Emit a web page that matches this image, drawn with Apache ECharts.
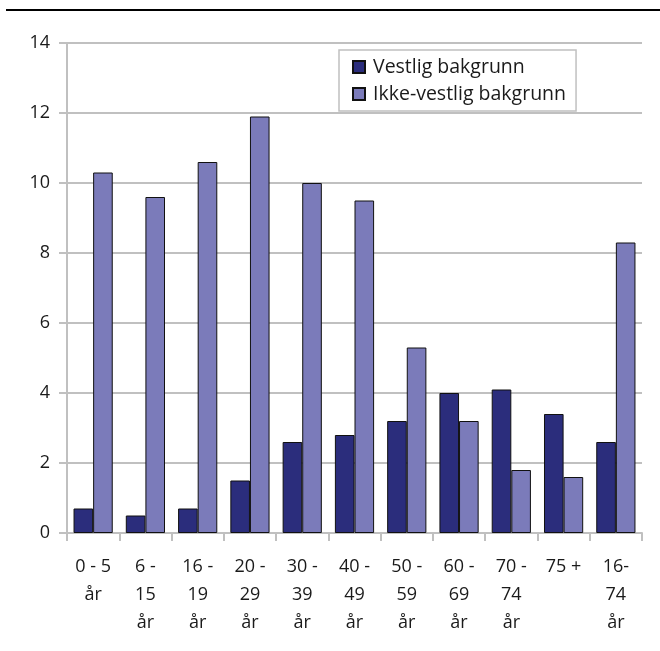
<!DOCTYPE html>
<html><head><meta charset="utf-8">
<script src="https://cdn.jsdelivr.net/npm/echarts@6/dist/echarts.min.js"></script>
<style>html,body{margin:0;padding:0;background:#fff}#c{width:660px;height:651px}</style>
</head><body><div id="c"></div>
<script>
const categories = ["0 - 5\når","6 -\n15\når","16 -\n19\når","20 -\n29\når","30 -\n39\når","40 -\n49\når","50 -\n59\når","60 -\n69\når","70 -\n74\når","75 +","16-\n74\når"];
const vestlig = [0.7,0.5,0.7,1.5,2.6,2.8,3.2,4.0,4.1,3.4,2.6];
const ikkeVestlig = [10.3,9.6,10.6,11.9,10.0,9.5,5.3,3.2,1.8,1.6,8.3];
const seriesNames = ["Vestlig bakgrunn","Ikke-vestlig bakgrunn"];
const yTicks = {min:0, max:14, interval:2};

const FONT = "Open Sans";
const chart = echarts.init(document.getElementById('c'), null, {renderer:'canvas'});
chart.setOption({
  animation:false,
  backgroundColor:'#fff',
  textStyle:{fontFamily:FONT},
  graphic:[{type:'line', shape:{x1:6,y1:10,x2:660,y2:10}, style:{stroke:'#000',lineWidth:2}}],
  grid:{left:67,right:18,top:43,bottom:118,containLabel:false},
  legend:{
    orient:'vertical', left:339, top:50,
    padding:[7,10,7,13], itemGap:7, itemWidth:12, itemHeight:12, icon:'rect',
    borderColor:'#c0c0c0', borderWidth:1.5, backgroundColor:'#fff',
    textStyle:{fontFamily:FONT, fontSize:19.5, color:'#1a1a1a', lineHeight:20, padding:[0,0,0,3]},
    data:seriesNames
  },
  xAxis:{
    type:'category', data:categories,
    axisLine:{lineStyle:{color:'#c0c0c0',width:2}},
    axisTick:{show:true,length:8,lineStyle:{color:'#c0c0c0',width:2}},
    axisLabel:{interval:0, margin:20, fontFamily:FONT, fontSize:18, lineHeight:28, color:'#1a1a1a', align:'center'},
    splitLine:{show:false}
  },
  yAxis:{
    type:'value', min:yTicks.min, max:yTicks.max, interval:yTicks.interval,
    axisLine:{show:true,lineStyle:{color:'#c0c0c0',width:2}},
    axisTick:{show:true,length:8,lineStyle:{color:'#c0c0c0',width:2}},
    axisLabel:{margin:17, fontFamily:FONT, fontSize:18, color:'#1a1a1a'},
    splitLine:{show:true,lineStyle:{color:'#c0c0c0',width:2}}
  },
  series:[
    {name:seriesNames[0], type:'bar', data:vestlig, barGap:'0%', barCategoryGap:'25%',
     itemStyle:{color:'#2b2d7c', borderColor:'#111', borderWidth:1}},
    {name:seriesNames[1], type:'bar', data:ikkeVestlig, barGap:'0%', barCategoryGap:'25%',
     itemStyle:{color:'#7b7bba', borderColor:'#111', borderWidth:1}}
  ]
});
</script></body></html>
